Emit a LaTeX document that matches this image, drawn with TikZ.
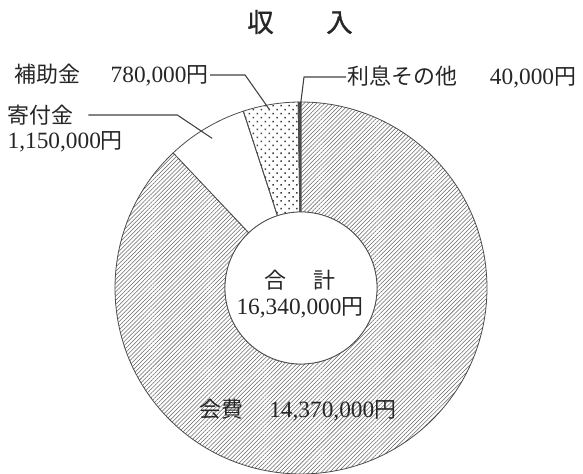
\documentclass[tikz,border=0pt]{standalone}
\usepackage{fontspec}
\setmainfont{Liberation Serif}
\newfontfamily\jp[Scale=0.94]{Noto Sans CJK JP}
\newfontfamily\jpb[Scale=0.94,FakeBold=1.2]{Noto Sans CJK JP}
\usetikzlibrary{patterns.meta}
\def\Rout{186}
\def\Rin{76}
\def\ringpart#1#2#3{\path[#1] ([shift={(#2:\Rout)}]C) arc (#2:#3:\Rout) -- ([shift={(#3:\Rin)}]C) arc (#3:#2:\Rin) -- cycle}
\tikzstyle{txt}=[font=\fontsize{17.5}{20}\selectfont,text=black!85,inner sep=1pt]
\tikzstyle{slice}=[draw=black!70,line width=0.6pt]
\tikzstyle{kaihi}=[slice,pattern={Lines[angle=45,distance=2.2pt,line width=0.4pt]},pattern color=black!60]
\tikzstyle{hojo}=[slice,pattern={Dots[angle=45,distance=4.2pt,radius=0.8pt]},pattern color=black!75]
\tikzstyle{kifu}=[slice,fill=white]
\tikzstyle{risoku}=[slice,fill=black!70]
\tikzstyle{leader}=[draw=black!75,line width=0.8pt,line join=round]

\begin{document}
\begin{tikzpicture}[x=0.75pt,y=0.75pt]
    \useasboundingbox (0,0) rectangle (583,474);
    \coordinate (C) at (301,186);
    % ring: 14,370,000 / 1,150,000 / 780,000 / 40,000 of 16,340,000
    \ringpart{kaihi}{133.403}{450};
    \ringpart{kifu}{108.066}{133.403};
    \ringpart{hojo}{90.881}{108.066};
    \ringpart{risoku}{90}{90.881};
    \draw[slice,fill=white] (C) circle (\Rin);
    \coordinate (hojoPt) at ([shift={(100:181)}]C);
    \coordinate (risokuPt) at ([shift={(90.45:176)}]C);
    \coordinate (kifuPt) at ([shift={(120.7:174)}]C);
    \node[font=\fontsize{21}{25}\selectfont\jpb,text=black!85] (title) at (300,452) {収\hspace{2em}入};
    \node[txt,align=center] (total) at (300,180) {{\jp 合\hspace{1.2em}計}\\16,340,000{\jp 円}};
    \node[txt] (kaihiTxt) at (298,64) {{\jp 会費}\hspace{1.1em}14,370,000{\jp 円}};
    \node[txt,anchor=west] (hojoTxt) at (13,399) {{\jp 補助金}\hspace{1.3em}780,000{\jp 円}};
    \node[txt,anchor=west] (risokuTxt) at (346,397) {{\jp 利息その他}\hspace{1.4em}40,000{\jp 円}};
    \node[txt,anchor=west] (kifuTxt) at (6,359) {\jp 寄付金};
    \node[txt,anchor=west] (kifuVal) at (6,332) {1,150,000{\jp 円}};
    \draw[leader] (hojoTxt.east) -- ++(35,0) -- (hojoPt);
    \draw[leader] (risokuTxt.west) -- ++(-42,0) -- (risokuPt);
    \draw[leader] ([xshift=10pt]kifuTxt.east) -- ++(89,0) -- (kifuPt);
\end{tikzpicture}
\end{document}
